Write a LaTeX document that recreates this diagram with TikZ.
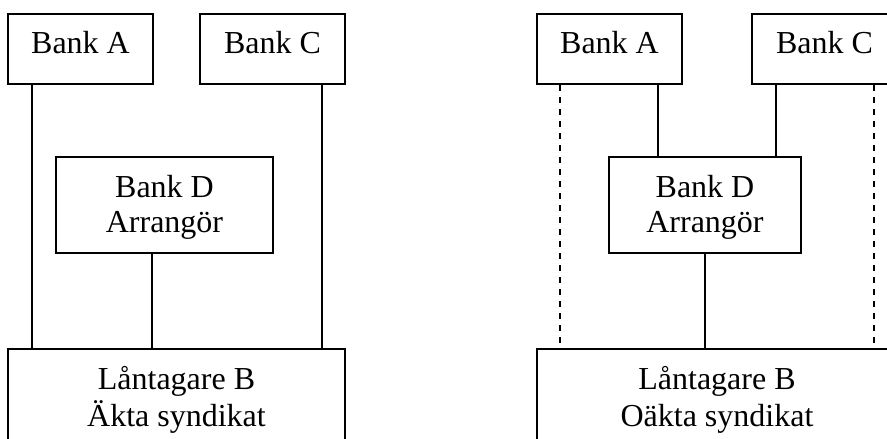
\documentclass[tikz,border=0pt]{standalone}
\usepackage{fontspec}
\setmainfont{Liberation Serif}
\begin{document}
\begin{tikzpicture}[x=1pt,y=-1pt,
  box/.style={draw, line width=1.8pt, rectangle, inner sep=0pt, align=center, anchor=north,
    font=\fontsize{32}{35}\selectfont},
  wire/.style={line width=1.8pt},
  dwire/.style={line width=1.8pt, dash pattern=on 6.5pt off 5.5pt}]
\useasboundingbox (0,0) rectangle (887,439);
\clip (0,0) rectangle (887,439);
% ---- left: Äkta syndikat
\node[box, minimum width=145pt] (bA) at (80.5,13) {\rule{0pt}{40pt}Bank A\rule[-30pt]{0pt}{30pt}};
\node[box, minimum width=145pt] (bC) at (272.5,13) {\rule{0pt}{40pt}Bank C\rule[-30pt]{0pt}{30pt}};
\node[box, minimum width=217pt] (bD) at (164.5,156) {\rule{0pt}{41pt}Bank D\\Arrangör\rule[-20pt]{0pt}{20pt}};
\node[box, minimum width=337pt, font=\fontsize{32}{37}\selectfont] (lB) at (176.5,348) {\rule{0pt}{41pt}Låntagare B\\Äkta syndikat\rule[-40pt]{0pt}{40pt}};
\draw[wire] ([xshift=25pt]bA.south west) -- ([xshift=25pt]bA.south west |- lB.north);
\draw[wire] ([xshift=-24pt]bC.south east) -- ([xshift=-24pt]bC.south east |- lB.north);
\draw[wire] ([xshift=97pt]bD.south west) -- ([xshift=97pt]bD.south west |- lB.north);
% ---- right: Oäkta syndikat
\node[box, minimum width=145pt] (rA) at (609.5,13) {\rule{0pt}{40pt}Bank A\rule[-30pt]{0pt}{30pt}};
\node[box, minimum width=145pt] (rC) at (824.5,13) {\rule{0pt}{40pt}Bank C\rule[-30pt]{0pt}{30pt}};
\node[box, minimum width=192pt] (rD) at (705,156) {\rule{0pt}{41pt}Bank D\\Arrangör\rule[-20pt]{0pt}{20pt}};
\node[box, minimum width=360pt, font=\fontsize{32}{37}\selectfont] (rB) at (717,348) {\rule{0pt}{41pt}Låntagare B\\Oäkta syndikat\rule[-40pt]{0pt}{40pt}};
\draw[dwire] ([xshift=24pt]rA.south west) -- ([xshift=24pt]rA.south west |- rB.north);
\draw[dwire] ([xshift=-24pt]rC.south east) -- ([xshift=-24pt]rC.south east |- rB.north);
\draw[wire] ([xshift=-25pt]rA.south east) -- ([xshift=-25pt]rA.south east |- rD.north);
\draw[wire] ([xshift=25pt]rC.south west) -- ([xshift=25pt]rC.south west |- rD.north);
\draw[wire] (rD.south) -- (rD.south |- rB.north);
\end{tikzpicture}
\end{document}
